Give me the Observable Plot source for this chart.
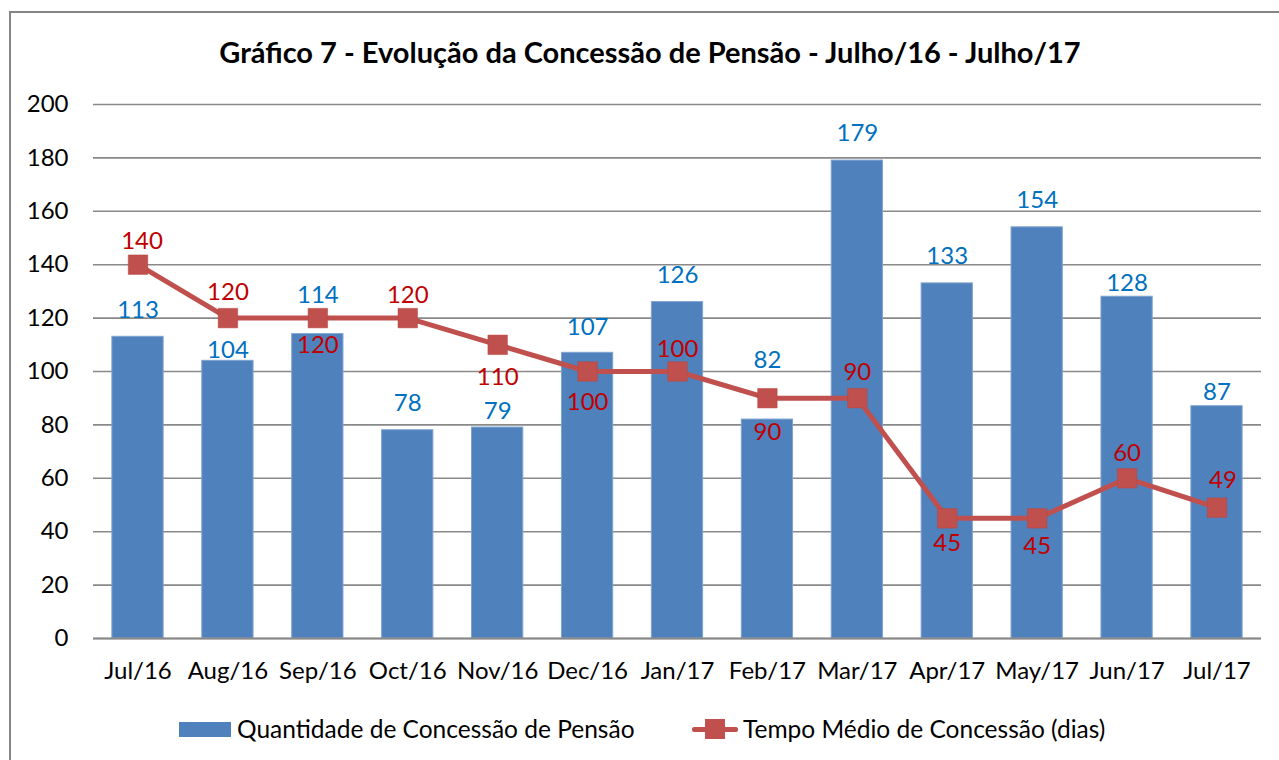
<!DOCTYPE html>
<html>
<head>
<meta charset="utf-8">
<script src="https://cdn.jsdelivr.net/npm/d3@7"></script>
<script src="https://cdn.jsdelivr.net/npm/@observablehq/plot@0.6"></script>
<style>
  html, body { margin: 0; padding: 0; background: #fff; width: 1279px; height: 760px; overflow: hidden; }
  body { font-family: Lato, "Noto Sans", sans-serif; position: relative; }
  #frame { position: absolute; left: 9px; top: 11px; width: 1300px; height: 800px; border: 2px solid #868686; box-sizing: border-box; }
  #title { position: absolute; left: 0; width: 1300px; top: 33px; text-align: center; font-weight: bold; font-size: 29px; color: #000; line-height: 38px; }
  #chart { position: absolute; left: 0; top: 80px; }
  .leg { position: absolute; top: 713px; height: 32px; font-size: 24.5px; line-height: 32px; color: #000; white-space: nowrap; }
  .sw { position: absolute; }
</style>
</head>
<body>
<div id="frame"></div>
<div id="title">Gráfico 7 - Evolução da Concessão de Pensão - Julho/16 - Julho/17</div>
<div id="chart"></div>
<div id="legend"></div>
<script>
// ---- data ----
const months = ["Jul/16","Aug/16","Sep/16","Oct/16","Nov/16","Dec/16","Jan/17","Feb/17","Mar/17","Apr/17","May/17","Jun/17","Jul/17"];
const quantidade = [113, 104, 114, 78, 79, 107, 126, 82, 179, 133, 154, 128, 87];
const tempoMedio = [140, 120, 120, 120, 110, 100, 100, 90, 90, 45, 45, 60, 49];
const yTicks = [0, 20, 40, 60, 80, 100, 120, 140, 160, 180, 200];
const seriesNames = ["Quantidade de Concessão de Pensão", "Tempo Médio de Concessão (dias)"];

// ---- label placement (layout only, pixels) ----
const barLabelDy  = [-26, -11, -39, -27, -16, -25, -27, -59, -27, -27, -27, -13, -14];
const lineLabelDy = [-23, -26, 27, -23, 33, 31, -22, 34, -26, 25, 28, -25, -27];
const lineLabelDx = [4, 0, 0, 0, 0, 0, 0, 0, 0, 0, 0, 0, 6];

const BLUE = "#4F81BD", RED = "#C0504D", BLUE_TXT = "#0070C0", RED_TXT = "#C00000", GRID = "#898989";

const rows = months.map((m, i) => ({
  month: m, q: quantidade[i], t: tempoMedio[i],
  bdy: barLabelDy[i], ldy: lineLabelDy[i], ldx: lineLabelDx[i]
}));

const font = "Lato, 'Noto Sans', sans-serif";
const FS = 24;

const chart = Plot.plot({
  width: 1279,
  height: 615,
  marginLeft: 93,
  marginRight: 18,
  marginTop: 24,
  marginBottom: 57,
  style: { fontFamily: font, fontSize: FS + "px", color: "#000", background: "transparent", overflow: "visible" },
  x: { type: "band", domain: months, paddingInner: 0.43, paddingOuter: 0.21, align: 0.5, round: false, label: null },
  y: { domain: [0, 200], label: null },
  marks: [
    Plot.ruleY(yTicks, { stroke: GRID, strokeWidth: 1.6 }),
    Plot.axisY({ ticks: yTicks, tickSize: 0, tickPadding: 25, label: null, fontSize: FS, fill: "#000" }),
    Plot.axisX({ tickSize: 0, tickPadding: 23, label: null, fontSize: FS, fill: "#000" }),
    Plot.barY(rows, { x: "month", y: "q", fill: BLUE, stroke: "#7FA3CF", strokeWidth: 1 }),
    Plot.ruleY([0], { stroke: GRID, strokeWidth: 2 }),
    ...rows.map(d => Plot.text([d], { x: "month", y: "q", text: r => String(r.q), dy: d.bdy, fill: BLUE_TXT, fontSize: FS })),
    Plot.line(rows, { x: "month", y: "t", stroke: RED, strokeWidth: 5 }),
    Plot.dot(rows, { x: "month", y: "t", symbol: "square", r: 11, fill: RED, stroke: "#B8443F", strokeWidth: 0.5 }),
    ...rows.map(d => Plot.text([d], { x: "month", y: "t", text: r => String(r.t), dy: d.ldy, dx: d.ldx, fill: RED_TXT, fontSize: FS })),
  ]
});

document.getElementById("chart").appendChild(chart);

// ---- legend ----
const legend = document.getElementById("legend");
legend.innerHTML = `
  <div class="sw" style="left:179px; top:722px; width:52px; height:15px; background:${BLUE};"></div>
  <div class="leg" style="left:237px;">${seriesNames[0]}</div>
  <div class="sw" style="left:692px; top:727px; width:46px; height:5px; border-radius:2px; background:${RED};"></div>
  <div class="sw" style="left:705px; top:719px; width:20px; height:20px; background:${RED};"></div>
  <div class="leg" style="left:743px;">${seriesNames[1]}</div>
`;
</script>
</body>
</html>
